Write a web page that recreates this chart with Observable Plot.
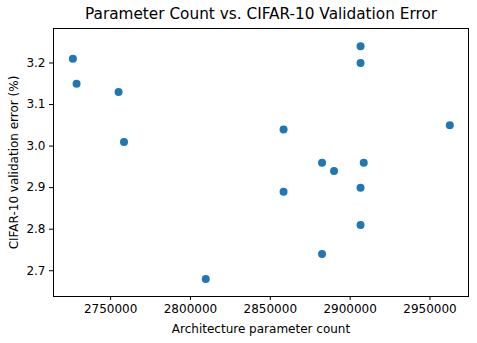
<!DOCTYPE html>
<html>
<head>
<meta charset="utf-8">
<script src="https://cdn.jsdelivr.net/npm/d3@7"></script>
<script src="https://cdn.jsdelivr.net/npm/@observablehq/plot@0.6"></script>
<style>
  html, body { margin: 0; padding: 0; background: #fff; }
  #chart svg { display: block; }
</style>
</head>
<body>
<div id="chart"></div>
<script>
const paramCounts = [2726400, 2728700, 2755000, 2758400, 2809600, 2858300, 2858300, 2882400, 2882400, 2889900, 2906500, 2906500, 2908500, 2906500, 2906500, 2962400];
const valErrors   = [3.21, 3.15, 3.13, 3.01, 2.68, 3.04, 2.89, 2.96, 2.74, 2.94, 3.24, 3.20, 2.96, 2.90, 2.81, 3.05];
const xTicks = [2750000, 2800000, 2850000, 2900000, 2950000];
const yTicks = [2.7, 2.8, 2.9, 3.0, 3.1, 3.2];
const title = "Parameter Count vs. CIFAR-10 Validation Error";
const xLabel = "Architecture parameter count";
const yLabel = "CIFAR-10 validation error (%)";

const data = paramCounts.map((p, i) => ({p, e: valErrors[i]}));

const chart = Plot.plot({
  width: 477,
  height: 343,
  marginTop: 28,
  marginBottom: 47,
  marginLeft: 53,
  marginRight: 9,
  style: {fontFamily: "DejaVu Sans", fontSize: "12px", color: "#000", background: "#fff"},
  x: {domain: [2714250, 2974100]},
  y: {domain: [2.638, 3.283]},
  marks: [
    Plot.frame({stroke: "#000", strokeWidth: 1}),
    Plot.axisX({ticks: xTicks, tickFormat: d => String(d), tickSize: 4, tickPadding: 4,
      label: xLabel, labelAnchor: "center", labelArrow: "none", labelOffset: 36, fontSize: 12}),
    Plot.axisY({ticks: yTicks, tickFormat: d => d.toFixed(1), tickSize: 4, tickPadding: 4,
      label: yLabel, labelAnchor: "center", labelArrow: "none", labelOffset: 44, fontSize: 12}),
    Plot.dot(data, {x: "p", y: "e", r: 4, fill: "#1f77b4", stroke: "none"}),
    Plot.text([title], {frameAnchor: "top", dy: -20, text: d => d, fontSize: 15.3, fill: "#000"})
  ]
});
document.getElementById("chart").appendChild(chart);
</script>
</body>
</html>
